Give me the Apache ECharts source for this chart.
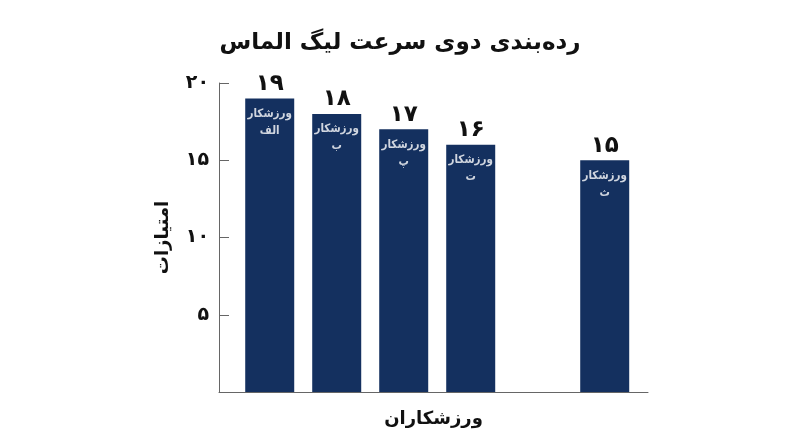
<!DOCTYPE html>
<html>
<head>
<meta charset="utf-8">
<script src="https://cdn.jsdelivr.net/npm/echarts@6/dist/echarts.min.js"></script>
<style>
  html, body { margin: 0; padding: 0; background: #fff; }
  #chart { width: 800px; height: 447px; }
</style>
</head>
<body>
<div id="chart"></div>
<script>
// athletes along the x axis, the empty slot is the gap before the last bar
const athletes = ['ورزشکار\nالف', 'ورزشکار\nب', 'ورزشکار\nپ', 'ورزشکار\nت', '', 'ورزشکار\nث'];
const scores = [19, 18, 17, 16, null, 15];
const yTicks = [0, 5, 10, 15, 20];

const faDigits = '۰۱۲۳۴۵۶۷۸۹';
const toFa = (n) => String(n).replace(/\d/g, d => faDigits[d]);

const font = "'DejaVu Sans', sans-serif";
const narrow = "'DejaVu Sans Condensed', 'DejaVu Sans', sans-serif";
const navy = '#14305f';

const points = athletes
  .map((name, i) => ({ name, value: [i, scores[i]] }))
  .filter(p => p.value[1] != null);

const chart = echarts.init(document.getElementById('chart'));
chart.setOption({
  animation: false,
  textStyle: { fontFamily: font },
  title: {
    text: 'رده‌بندی دوی سرعت لیگ الماس',
    left: 'center', top: 27,
    textStyle: { fontSize: 23, fontWeight: 'bold', color: '#111', fontFamily: font }
  },
  grid: { left: 219, right: 152, top: 83, bottom: 55 },
  xAxis: {
    type: 'value',
    min: -0.757, max: 5.646,
    name: 'ورزشکاران',
    nameLocation: 'middle',
    nameGap: 18,
    nameTextStyle: { fontSize: 18, fontWeight: 'bold', color: '#111', fontFamily: font },
    axisLine: { show: true, onZero: false, lineStyle: { color: '#666', width: 1 } },
    axisTick: { show: false },
    axisLabel: { show: false },
    splitLine: { show: false }
  },
  yAxis: {
    type: 'value',
    min: yTicks[0], max: yTicks[yTicks.length - 1], interval: 5,
    name: 'امتیازات',
    nameLocation: 'middle',
    nameRotate: 90,
    nameGap: 47,
    nameTextStyle: { fontSize: 18, fontWeight: 'bold', color: '#111', fontFamily: font },
    axisLine: { show: true, onZero: false, lineStyle: { color: '#666', width: 1 } },
    axisTick: { show: true, inside: true, length: 10, lineStyle: { color: '#666' } },
    axisLabel: {
      margin: 10, fontSize: 19, fontWeight: 'bold', color: '#111',
      formatter: v => v === 0 ? '' : toFa(v)
    },
    splitLine: { show: false }
  },
  series: [
    {
      type: 'bar',
      data: points,
      barWidth: 49,
      itemStyle: { color: navy },
      label: {
        show: true, position: 'top', distance: 3,
        fontSize: 23, fontWeight: 'bold', color: '#111',
        formatter: p => toFa(p.value[1])
      }
    },
    {
      type: 'scatter',
      data: points,
      symbolSize: 0,
      silent: true,
      label: {
        show: true, position: 'bottom', distance: 7,
        fontSize: 11.5, fontWeight: 'bold', color: '#fff', lineHeight: 17,
        fontFamily: narrow,
        align: 'center',
        formatter: p => p.name
      }
    }
  ]
});
</script>
</body>
</html>
